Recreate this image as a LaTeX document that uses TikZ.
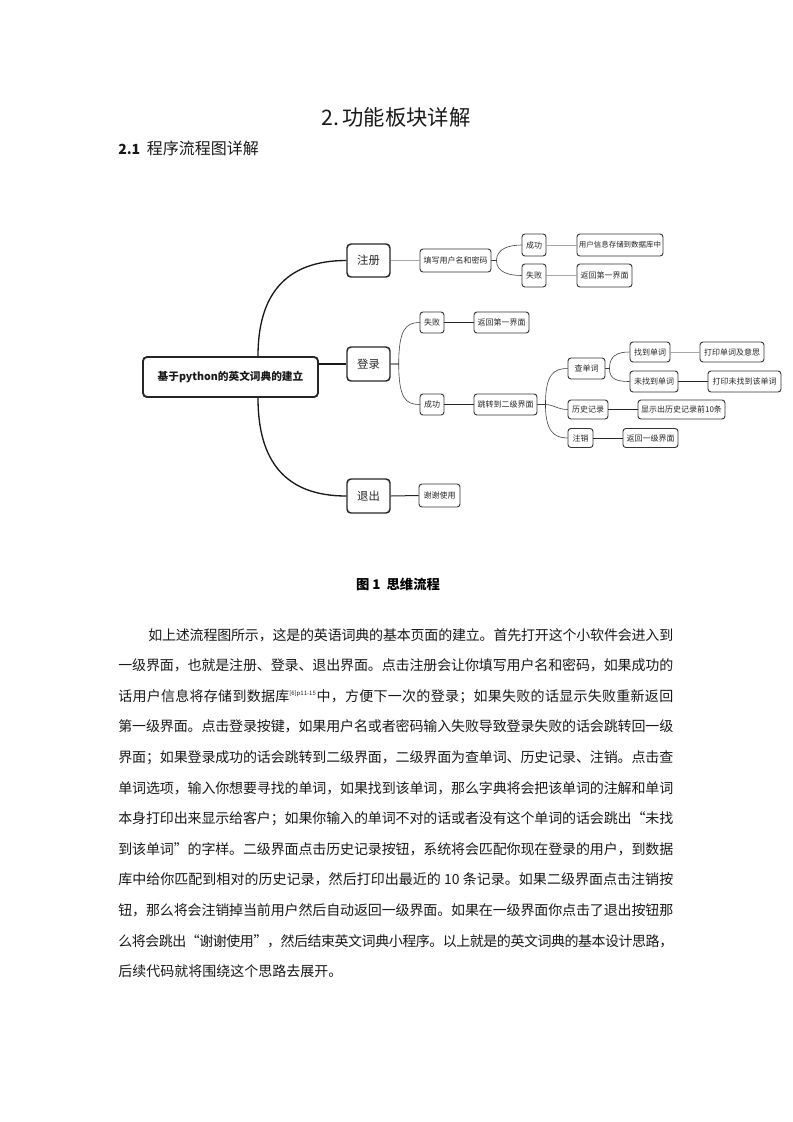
\documentclass[tikz,border=0pt]{standalone}
\usepackage{fontspec}
\setmainfont{Noto Sans CJK SC}
\usetikzlibrary{calc}
\XeTeXinterchartokenstate=1
\newXeTeXintercharclass\CJKcls
\count255="3000 \loop \XeTeXcharclass\count255=\CJKcls \advance\count255 by 1 \ifnum\count255<"3040 \repeat
\count255="4E00 \loop \XeTeXcharclass\count255=\CJKcls \advance\count255 by 1 \ifnum\count255<"A000 \repeat
\count255="FF00 \loop \XeTeXcharclass\count255=\CJKcls \advance\count255 by 1 \ifnum\count255<"FFF0 \repeat
\XeTeXcharclass"201C=\CJKcls
\XeTeXcharclass"201D=\CJKcls
\XeTeXinterchartoks\CJKcls\CJKcls={\hskip0pt plus 1pt minus 0.6pt\relax}
\XeTeXinterchartoks\CJKcls 0={\hskip0pt plus 1pt minus 0.6pt\relax}
\XeTeXinterchartoks 0\CJKcls={\hskip0pt plus 1pt minus 0.6pt\relax}
\tikzset{
 rootbox/.style={draw=black!85, line width=1.4pt, rounded corners=3pt, text=black!90,
   font=\fontsize{8}{9}\selectfont\bfseries, minimum width=175*0.75pt, minimum height=40*0.75pt, inner sep=0},
 lonebox/.style={draw=black!85, line width=1.1pt, rounded corners=3pt, text=black!85,
   font=\fontsize{8.5}{10}\selectfont, minimum width=43*0.75pt, minimum height=34*0.75pt, inner sep=0},
 sbox/.style={draw=black!80, line width=0.7pt, rounded corners=2.2pt, text=black!85,
   font=\fontsize{6}{7}\selectfont, inner sep=0, minimum height=21*0.75pt},
 wd/.style={minimum width=#1*0.75pt},
 cz/.style={draw=black!90, line width=1pt},
 cone/.style={draw=black!85, line width=0.75pt},
 ctwo/.style={draw=black!75, line width=0.45pt},
 cgray/.style={draw=black!35, line width=0.7pt},
 body/.style={anchor=base west, inner sep=0, font=\fontsize{10.5}{12}\selectfont, text=black!90},
}
\begin{document}
\begin{tikzpicture}[x=0.75pt,y=-0.75pt]
\useasboundingbox (0,0) rectangle (793,1122);
% headings
\node[font=\fontsize{16}{18}\selectfont, text=black!90] (title) at (396,117) {2.\,功能板块详解};
\node[anchor=west, inner sep=0, font=\fontsize{12}{14}\selectfont, text=black!90] (sec) at (118,148) {{\bfseries\fontsize{10.5}{12}\selectfont 2.1}\hspace{5pt}程序流程图详解};
% mind map nodes
\node[rootbox] (root) at (230.5,377) {基于python的英文词典的建立};
\node[lonebox, minimum height=33*0.75pt] (zc) at (368.5,260.5) {注册};
\node[lonebox] (dl) at (368.5,364) {登录};
\node[lonebox] (tc) at (368.5,496) {退出};
\node[sbox, wd=71, minimum height=23*0.75pt] (tx) at (455.5,260.5) {填写用户名和密码};
\node[sbox, wd=24, minimum height=22*0.75pt] (zcs) at (534,245) {成功};
\node[sbox, wd=24, minimum height=23*0.75pt] (zcf) at (534,275.5) {失败};
\node[sbox, wd=86, minimum height=22*0.75pt, font=\fontsize{5.6}{7}\selectfont] (zcs2) at (620,245) {用户信息存储到数据库中};
\node[sbox, wd=55, minimum height=23*0.75pt] (zcf2) at (604.5,275.5) {返回第一界面};
\node[sbox, wd=24] (dlf) at (432,322.5) {失败};
\node[sbox, wd=55] (dlf2) at (501.5,322.5) {返回第一界面};
\node[sbox, wd=24] (dls) at (432,404.5) {成功};
\node[sbox, wd=63] (dls2) at (505.5,404.5) {跳转到二级界面};
\node[sbox, wd=37] (cdc) at (586.5,368.5) {查单词};
\node[sbox, wd=40, minimum height=19*0.75pt] (ls) at (588,409.5) {历史记录};
\node[sbox, wd=25, minimum height=19*0.75pt] (zx) at (580.5,438) {注销};
\node[sbox, wd=40, minimum height=20*0.75pt] (zd) at (650,352) {找到单词};
\node[sbox, wd=64, minimum height=20*0.75pt] (zd2) at (732,352) {打印单词及意思};
\node[sbox, wd=48] (wzd) at (654,381.5) {未找到单词};
\node[sbox, wd=73] (wzd2) at (744.5,381.5) {打印未找到该单词};
\node[sbox, wd=87, minimum height=19*0.75pt] (ls2) at (681.5,409.5) {显示出历史记录前10条};
\node[sbox, wd=55, minimum height=19*0.75pt] (zx2) at (650.5,438) {返回一级界面};
\node[sbox, wd=41, minimum height=23*0.75pt] (tc2) at (439.5,495.5) {谢谢使用};
% connectors from root
\draw[cz] ($(root.north)+(27.5,0)$) .. controls +(0,-60) and +(-62,0) .. (zc.west);
\draw[cz] ($(root.south)+(27.5,0)$) .. controls +(0,62) and +(-62,0) .. (tc.west);
\draw[cz] (root.east |- dl.west) -- (dl.west);
% level one
\draw[cgray] (zc.east) -- (tx.west);
\draw[cone] (tc.east) -- (tc2.west);
\draw[ctwo] (dl.east) -- ++(8,0) .. controls +(0,-34) and +(-14,0) .. (dlf.west);
\draw[ctwo] (dl.east) -- ++(8,0) .. controls +(0,34) and +(-14,0) .. (dls.west);
% register branch
\draw[ctwo] (tx.east) -- ++(5,0) .. controls +(0,-12) and +(-12,0) .. (zcs.west);
\draw[ctwo] (tx.east) -- ++(5,0) .. controls +(0,12) and +(-12,0) .. (zcf.west);
\draw[cgray] (zcs.east) -- (zcs2.west);
\draw[cgray] (zcf.east) -- (zcf2.west);
% login branch
\draw[cone] (dlf.east) -- (dlf2.west);
\draw[cone] (dls.east) -- (dls2.west);
\draw[ctwo] (dls2.east) -- ++(8,0) .. controls +(0,-30) and +(-14,0) .. (cdc.west);
\draw[ctwo] (dls2.east) -- ++(8,0) .. controls +(8,0) and +(-10,0) .. (ls.west);
\draw[ctwo] (dls2.east) -- ++(8,0) .. controls +(0,26) and +(-14,0) .. (zx.west);
\draw[ctwo] (cdc.east) -- ++(4,0) .. controls +(0,-13) and +(-12,0) .. (zd.west);
\draw[ctwo] (cdc.east) -- ++(4,0) .. controls +(0,11) and +(-12,0) .. (wzd.west);
\draw[cgray] (zd.east) -- (zd2.west);
\draw[cone] (wzd.east) -- (wzd2.west);
\draw[cone] (ls.east) -- (ls2.west);
\draw[cone] (zx.east) -- (zx2.west);
% caption
\node[font=\fontsize{10}{12}\selectfont\bfseries] (cap) at (398,584) {图 1\ \ 思维流程};
% body text
\node[body] (b1) at (148,640) {\hbox to 393.75pt{如上述流程图所示，这是的英语词典的基本页面的建立。首先打开这个小软件会进入到}};
\node[body] (b2) at (118,670.6) {\hbox to 416.25pt{一级界面，也就是注册、登录、退出界面。点击注册会让你填写用户名和密码，如果成功的}};
\node[body] (b3) at (118,701.2) {\hbox to 416.25pt{话用户信息将存储到数据库\textsuperscript{\fontsize{4.5}{5}\selectfont[6]p11-15}中，方便下一次的登录；如果失败的话显示失败重新返回}};
\node[body] (b4) at (118,731.8) {\hbox to 416.25pt{第一级界面。点击登录按键，如果用户名或者密码输入失败导致登录失败的话会跳转回一级}};
\node[body] (b5) at (118,762.4) {\hbox to 416.25pt{界面；如果登录成功的话会跳转到二级界面，二级界面为查单词、历史记录、注销。点击查}};
\node[body] (b6) at (118,793) {\hbox to 416.25pt{单词选项，输入你想要寻找的单词，如果找到该单词，那么字典将会把该单词的注解和单词}};
\node[body] (b7) at (118,823.6) {\hbox to 416.25pt{本身打印出来显示给客户；如果你输入的单词不对的话或者没有这个单词的话会跳出“未找}};
\node[body] (b8) at (118,854.2) {\hbox to 416.25pt{到该单词”的字样。二级界面点击历史记录按钮，系统将会匹配你现在登录的用户，到数据}};
\node[body] (b9) at (118,884.8) {\hbox to 416.25pt{库中给你匹配到相对的历史记录，然后打印出最近的 10 条记录。如果二级界面点击注销按}};
\node[body] (b10) at (118,915.4) {\hbox to 416.25pt{钮，那么将会注销掉当前用户然后自动返回一级界面。如果在一级界面你点击了退出按钮那}};
\node[body] (b11) at (118,946) {\hbox to 416.25pt{么将会跳出“谢谢使用”，然后结束英文词典小程序。以上就是的英文词典的基本设计思路，}};
\node[body] (b12) at (118,976.6) {后续代码就将围绕这个思路去展开。};
\end{tikzpicture}
\end{document}
